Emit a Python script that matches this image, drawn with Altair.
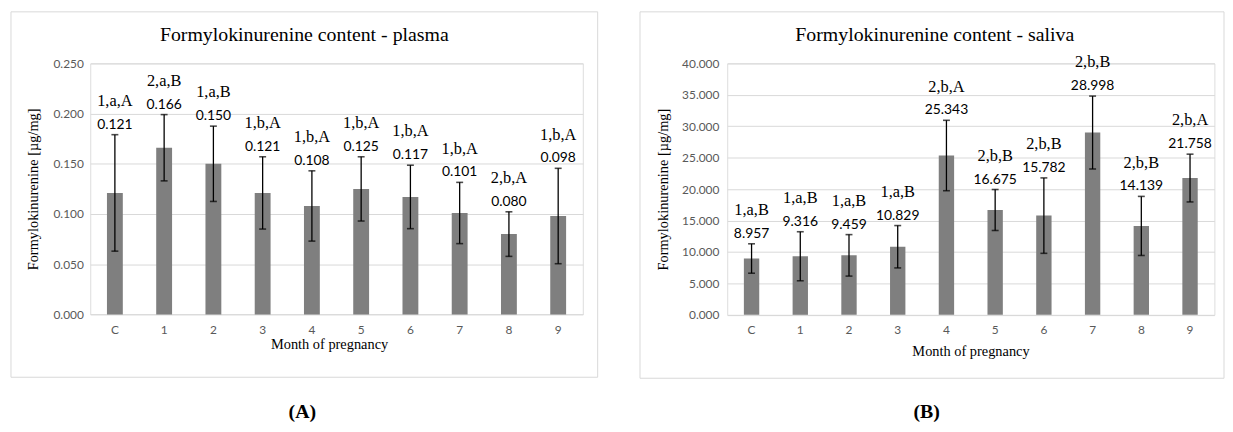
import altair as alt
import pandas as pd

months = ["C", "1", "2", "3", "4", "5", "6", "7", "8", "9"]

plasma_mean = [0.121, 0.166, 0.150, 0.121, 0.108, 0.125, 0.117, 0.101, 0.080, 0.098]
plasma_sd = [0.058, 0.033, 0.0375, 0.036, 0.035, 0.032, 0.0316, 0.0305, 0.0222, 0.0475]
plasma_groups = ["1,a,A", "2,a,B", "1,a,B", "1,b,A", "1,b,A", "1,b,A", "1,b,A", "1,b,A", "2,b,A", "1,b,A"]

saliva_mean = [8.957, 9.316, 9.459, 10.829, 25.343, 16.675, 15.782, 28.998, 14.139, 21.758]
saliva_sd = [2.34, 3.9, 3.3, 3.37, 5.6, 3.26, 6.0, 5.8, 4.7, 3.8]
saliva_groups = ["1,a,B", "1,a,B", "1,a,B", "1,a,B", "2,b,A", "2,b,B", "2,b,B", "2,b,B", "2,b,B", "2,b,A"]

plasma_ticks = [0, 0.05, 0.10, 0.15, 0.20, 0.25]
saliva_ticks = [0, 5, 10, 15, 20, 25, 30, 35, 40]

YTITLE = "Formylokinurenine [µg/mg]"
XTITLE = "Month of pregnancy"
SERIF = "Liberation Serif"
SANS = "Lato"
GRID = "#d9d9d9"
BAR = "#7f7f7f"


def panel(mean, sd, groups, ticks, ymax, title, tag, W, H, bar_size,
          box, ytitle_x, ylab_pad, xtitle_y, xtitle_x, title_pos, tag_pos):
    df = pd.DataFrame({"month": months, "mean": mean, "sd": sd, "grp": groups})
    df["lo"] = df["mean"] - df["sd"]
    df["hi"] = df["mean"] + df["sd"]
    df["val"] = [f"{v:.3f}" for v in mean]

    xaxis = alt.Axis(
        title=XTITLE, labelAngle=0, ticks=False, domain=False, grid=False,
        labelPadding=10, labelFont=SANS, labelFontSize=12, labelColor="#595959",
        titleFont=SERIF, titleFontSize=14.5, titleFontWeight="normal", titleColor="#000000",
        titleY=xtitle_y, titleX=xtitle_x, titleBaseline="middle",
    )
    xscale = alt.Scale(paddingInner=0, paddingOuter=0)
    yscale = alt.Scale(domain=[0, ymax], nice=False, zero=True)
    yaxis = alt.Axis(
        title=YTITLE, values=ticks, tickCount=len(ticks), format=".3f", ticks=False, domain=False,
        grid=True, gridColor=GRID, gridWidth=1, labelOverlap=False,
        labelPadding=ylab_pad, labelFont=SANS, labelFontSize=12, labelColor="#595959",
        titleFont=SERIF, titleFontSize=14.5, titleFontWeight="normal", titleColor="#000000",
        titleX=ytitle_x, titleBaseline="middle",
    )

    def X():
        return alt.X("month:N", sort=months, scale=xscale, axis=xaxis)

    def Y(field):
        return alt.Y(field, scale=yscale, axis=yaxis)

    base = alt.Chart(df)
    one = pd.DataFrame({"t": [title], "g": [tag]})

    border = alt.Chart(one).mark_rect(fillOpacity=0, stroke=GRID, strokeWidth=1).encode(
        x=alt.value(box[0]), x2=alt.value(box[1]), y=alt.value(box[2]), y2=alt.value(box[3])
    )
    bars = base.mark_bar(size=bar_size, color=BAR).encode(x=X(), y=Y("mean:Q"))
    rule = base.mark_rule(color="#000000", strokeWidth=1.3).encode(
        x=X(), y=Y("lo:Q"), y2="hi:Q",
    )
    cap_hi = base.mark_tick(orient="horizontal", size=7, thickness=1.6, color="#000000").encode(
        x=X(), y=Y("hi:Q")
    )
    cap_lo = base.mark_tick(orient="horizontal", size=7, thickness=1.6, color="#000000").encode(
        x=X(), y=Y("lo:Q")
    )
    vals = base.mark_text(font=SANS, fontSize=14, color="#000000", baseline="middle", dy=-10).encode(
        x=X(), y=Y("hi:Q"), text="val:N"
    )
    grps = base.mark_text(font=SERIF, fontSize=16.5, color="#000000", baseline="middle", dy=-34).encode(
        x=X(), y=Y("hi:Q"), text="grp:N"
    )
    ttl = alt.Chart(one).mark_text(font=SERIF, fontSize=20, color="#000000", align="center", baseline="middle").encode(
        text="t:N", x=alt.value(title_pos[0]), y=alt.value(title_pos[1])
    )
    tg = alt.Chart(one).mark_text(font=SERIF, fontSize=20, fontWeight="bold", color="#000000",
                                  align="center", baseline="middle").encode(
        text="g:N", x=alt.value(tag_pos[0]), y=alt.value(tag_pos[1])
    )
    return alt.layer(border, bars, rule, cap_hi, cap_lo, vals, grps, ttl, tg).properties(width=W, height=H)


left = panel(plasma_mean, plasma_sd, plasma_groups, plasma_ticks, 0.25,
             "Formylokinurenine content - plasma", "(A)",
             W=497, H=253.3, bar_size=16,
             box=(-80, 512, -52, 316.7), ytitle_x=-57, ylab_pad=7,
             xtitle_y=30, xtitle_x=241, title_pos=(216, -29), tag_pos=(214, 352))

right = panel(saliva_mean, saliva_sd, saliva_groups, saliva_ticks, 40,
              "Formylokinurenine content - saliva", "(B)",
              W=491.6, H=253.7, bar_size=15.5,
              box=(-88, 501.3, -52, 317.7), ytitle_x=-64, ylab_pad=8.4,
              xtitle_y=37.3, xtitle_x=245.5, title_pos=(209.5, -29), tag_pos=(201.3, 352))

chart = alt.hconcat(left, right, spacing=40.7).properties(
    padding={"left": 2, "top": 1, "right": 0, "bottom": 0}
).configure_view(strokeWidth=0).configure(background="#ffffff")

chart.save("out.html", embed_options={"renderer": "svg", "actions": False})
